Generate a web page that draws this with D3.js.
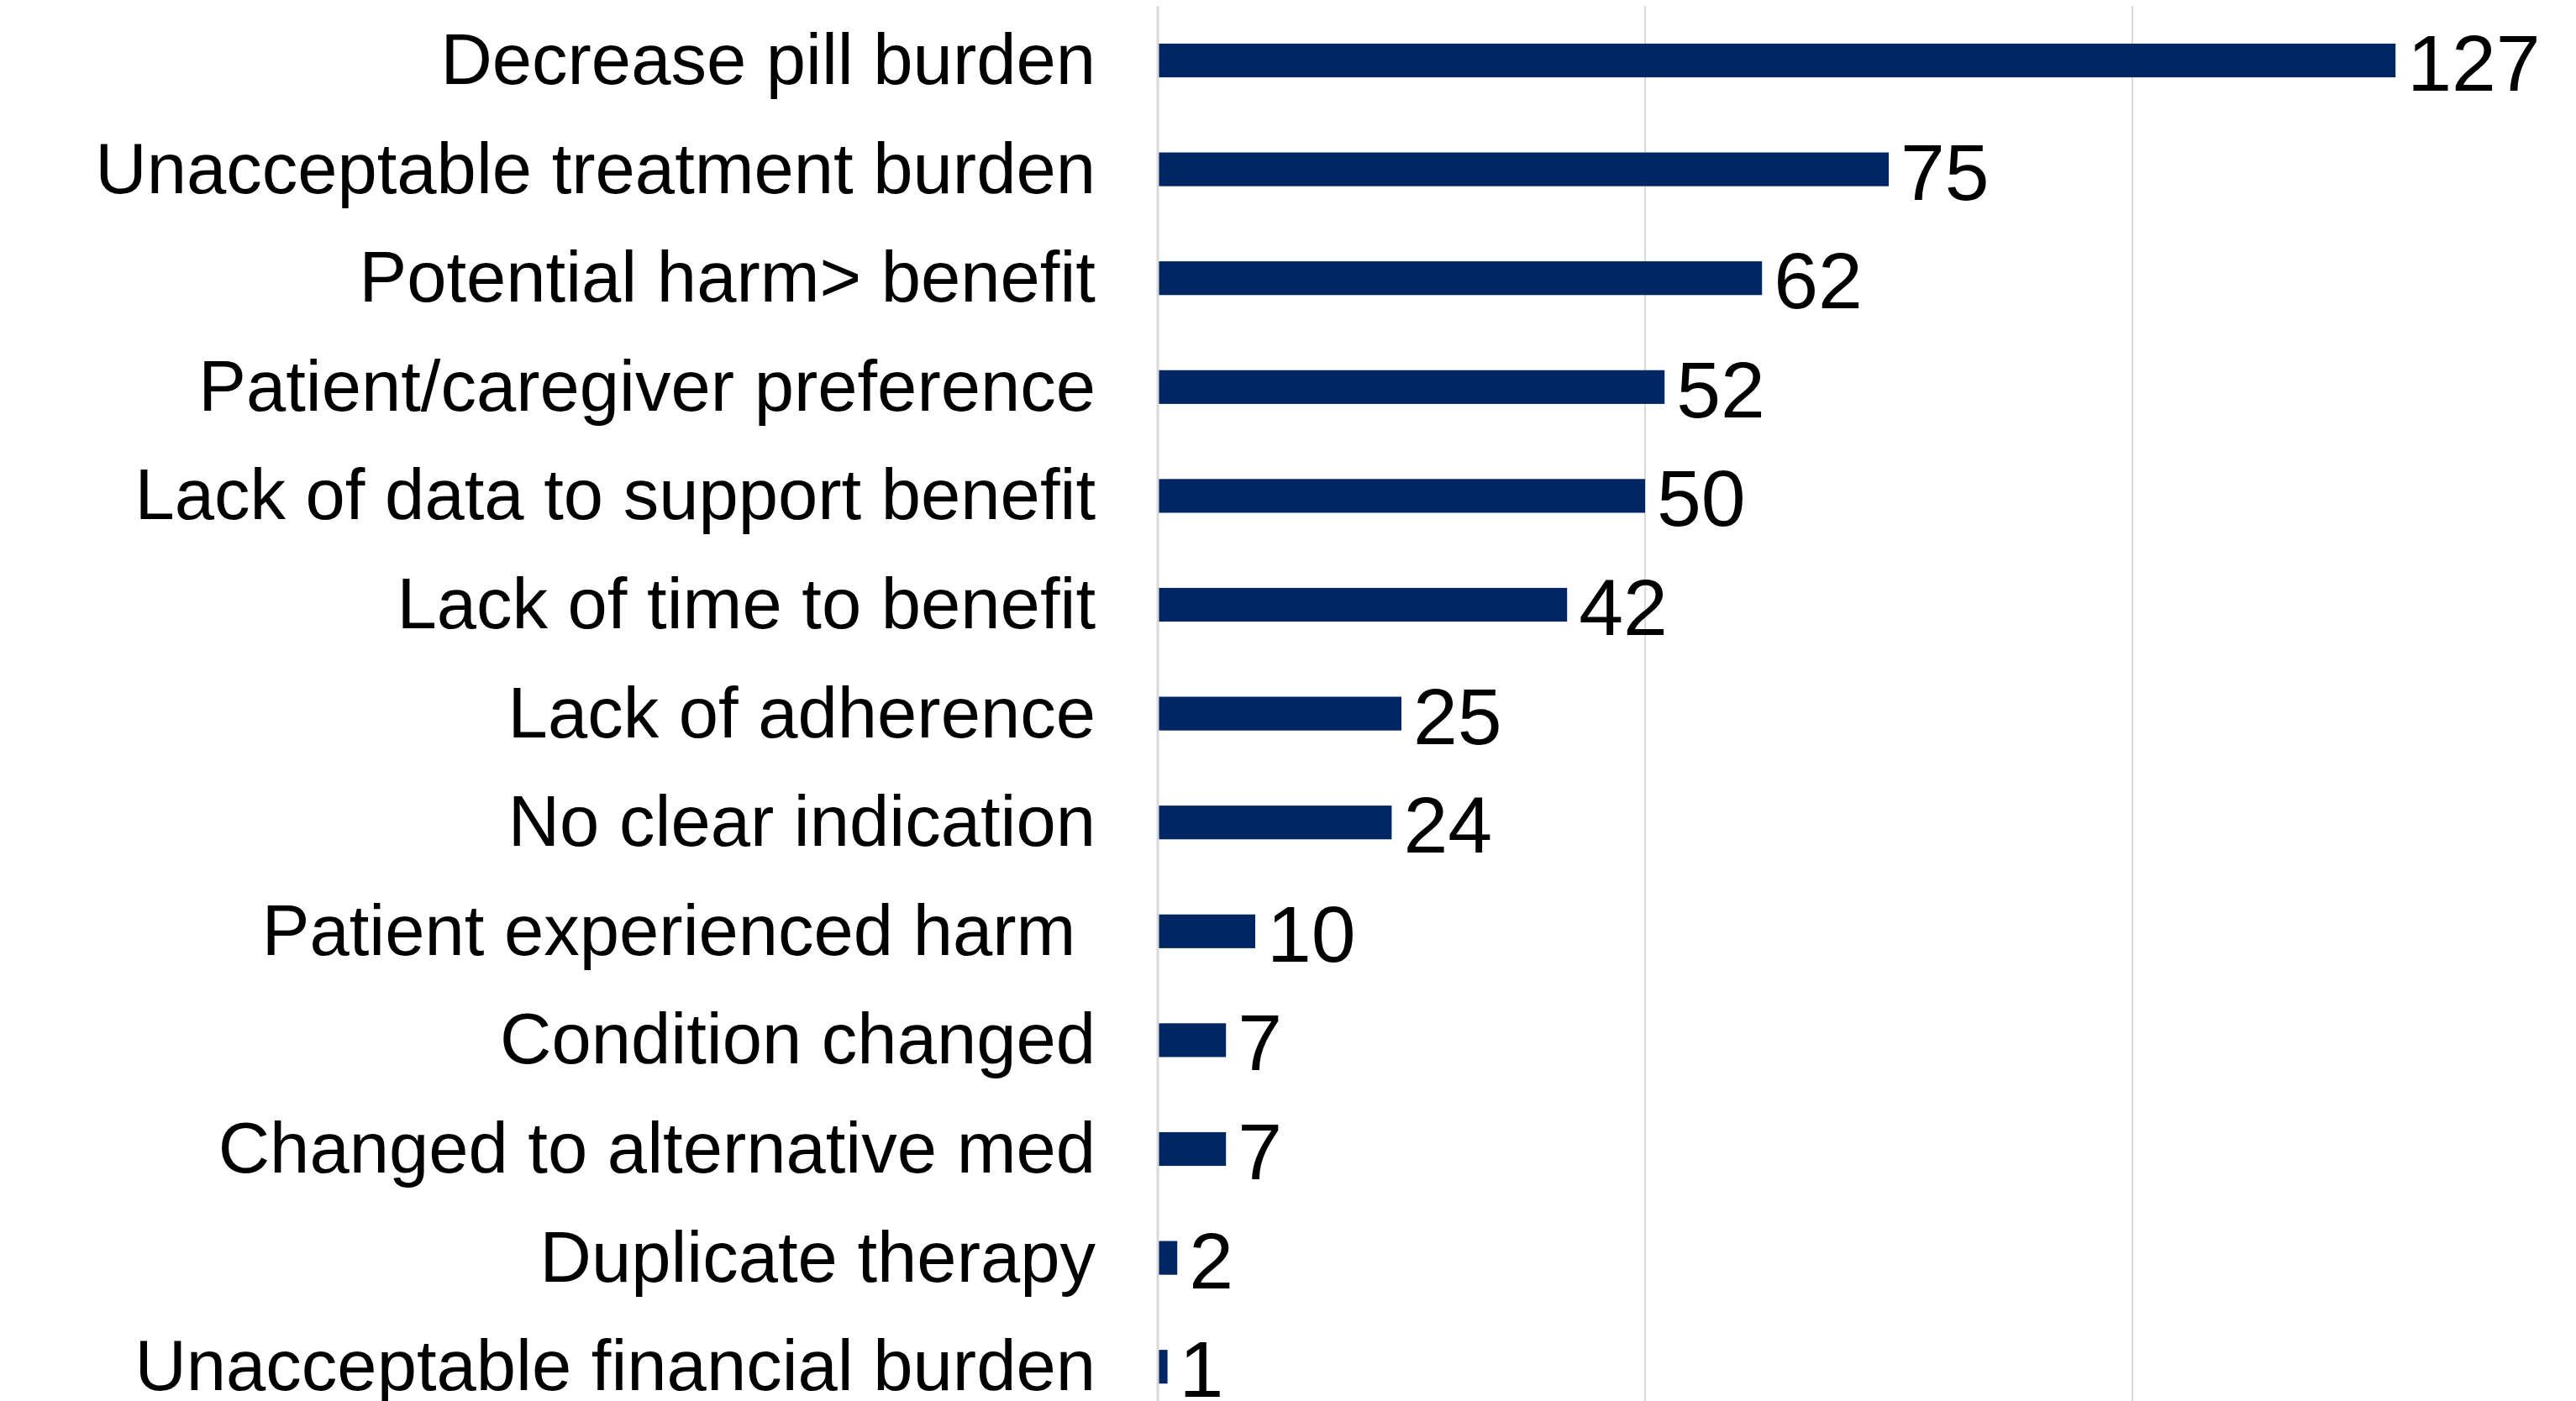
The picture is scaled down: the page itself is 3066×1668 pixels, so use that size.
<!DOCTYPE html>
<html>
<head>
<meta charset="utf-8">
<script src="https://cdn.jsdelivr.net/npm/d3@7"></script>
<style>
  html, body { margin: 0; padding: 0; background: #ffffff; overflow: hidden; }
  svg { display: block; }
  text { font-family: "Liberation Sans", Arial, sans-serif; }
</style>
</head>
<body>
<svg id="chart" width="3066" height="1668"></svg>
<script>
// Reasons given for deprescribing, with counts
const categories = [
  "Decrease pill burden",
  "Unacceptable treatment burden",
  "Potential harm> benefit",
  "Patient/caregiver preference",
  "Lack of data to support benefit",
  "Lack of time to benefit",
  "Lack of adherence",
  "No clear indication",
  "Patient experienced harm ",
  "Condition changed",
  "Changed to alternative med",
  "Duplicate therapy",
  "Unacceptable financial burden"
];
const counts = [127, 75, 62, 52, 50, 42, 25, 24, 10, 7, 7, 2, 1];
const gridTicks = [50, 100, 150];

const svg = d3.select("#chart");

const plotLeft = 1378;
const plotTop = 7.2;
const step = 129.6;

const x = d3.scaleLinear()
  .domain([0, 150])
  .range([plotLeft, plotLeft + 1740]);

const y = d3.scaleBand()
  .domain(categories)
  .range([plotTop, plotTop + step * categories.length])
  .paddingInner(0.69)
  .paddingOuter(0.345);

// vertical gridlines
svg.append("g")
  .selectAll("line")
  .data(gridTicks)
  .join("line")
  .attr("x1", d => x(d))
  .attr("x2", d => x(d))
  .attr("y1", plotTop)
  .attr("y2", plotTop + step * categories.length)
  .attr("stroke", "#d9d9d9")
  .attr("stroke-width", 2);

// bars
svg.append("g")
  .selectAll("rect")
  .data(categories)
  .join("rect")
  .attr("x", x(0))
  .attr("y", d => y(d))
  .attr("width", (d, i) => x(counts[i]) - x(0))
  .attr("height", y.bandwidth())
  .attr("fill", "#002663");

// category axis line
svg.append("line")
  .attr("x1", x(0))
  .attr("x2", x(0))
  .attr("y1", plotTop)
  .attr("y2", plotTop + step * categories.length)
  .attr("stroke", "#d9d9d9")
  .attr("stroke-width", 3);

// category labels
svg.append("g")
  .selectAll("text")
  .data(categories)
  .join("text")
  .attr("x", 1304)
  .attr("y", d => y(d) + y.bandwidth() / 2 + 28)
  .attr("text-anchor", "end")
  .style("white-space", "pre")
  .attr("font-size", 85)
  .attr("fill", "#000000")
  .text(d => d);

// value labels
svg.append("g")
  .selectAll("text")
  .data(categories)
  .join("text")
  .attr("x", (d, i) => x(counts[i]) + 14)
  .attr("y", d => y(d) + y.bandwidth() / 2 + 36)
  .attr("font-size", 95)
  .attr("fill", "#000000")
  .text((d, i) => counts[i]);
</script>
</body>
</html>
